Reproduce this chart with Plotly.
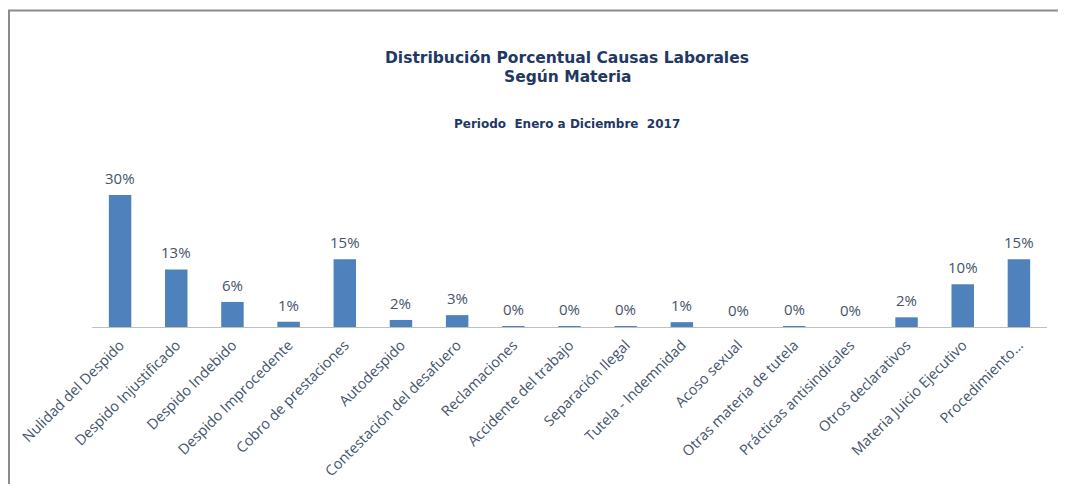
import plotly.graph_objects as go

categories = [
    "Nulidad del Despido", "Despido Injustificado", "Despido Indebido",
    "Despido Improcedente", "Cobro de prestaciones", "Autodespido",
    "Contestación del desafuero", "Reclamaciones", "Accidente del trabajo",
    "Separación Ilegal", "Tutela - Indemnidad", "Acoso sexual",
    "Otras materia de tutela", "Prácticas antisindicales", "Otros declarativos",
    "Materia Juicio Ejecutivo", "Procedimiento...",
]
values = [0.300, 0.131, 0.057, 0.012, 0.154, 0.016, 0.027, 0.002, 0.002,
          0.002, 0.011, 0.0, 0.002, 0.0, 0.022, 0.097, 0.154]
labels = [f"{round(v * 100)}%" for v in values]

# page is offset by the 8px body margin; work in page pixels and convert
OFF = 8
W, H = 1050, 476
L, R, T, B = 92 - OFF, 11, 170 - OFF, 157
pw, ph = W - L - R, H - T - B
ymax = 0.357


def px_x(px):
    return (px - OFF - L) / pw


def px_y(py):
    return (H - B - (py - OFF)) / ph


fig = go.Figure(go.Bar(
    x=categories, y=values,
    marker=dict(color="#4F81BD", line=dict(width=0)),
    width=0.4, hoverinfo="x+y",
))

annotations = [
    dict(x=c, y=v, text=t, xref="x", yref="y", showarrow=False,
         xanchor="center", yanchor="middle", yshift=17,
         font=dict(family="Open Sans", size=15, color="#44546A"))
    for c, v, t in zip(categories, values, labels)
]
annotations += [
    dict(text="<b>Distribución Porcentual Causas Laborales</b>",
         xref="paper", yref="paper", x=px_x(567), y=px_y(57.5),
         xanchor="center", yanchor="middle", showarrow=False,
         font=dict(family="DejaVu Sans", size=15.5, color="#1F3864")),
    dict(text="<b>Según Materia</b>",
         xref="paper", yref="paper", x=px_x(567), y=px_y(76.5),
         xanchor="center", yanchor="middle", showarrow=False,
         font=dict(family="DejaVu Sans", size=15.5, color="#1F3864")),
    dict(text="<b>Periodo  Enero a Diciembre  2017</b>",
         xref="paper", yref="paper", x=px_x(567), y=px_y(123.5),
         xanchor="center", yanchor="middle", showarrow=False,
         font=dict(family="DejaVu Sans", size=12, color="#1F3864")),
]

fig.update_layout(
    width=W, height=H,
    margin=dict(l=L, r=R, t=T, b=B, autoexpand=False),
    paper_bgcolor="white", plot_bgcolor="white",
    showlegend=False,
    font=dict(family="Open Sans", color="#44546A"),
    xaxis=dict(
        tickangle=-45, showline=True, linecolor="#BFBFBF", linewidth=1,
        ticks="", tickfont=dict(family="Open Sans", size=14.5, color="#44546A"),
        ticklabelstandoff=3,
        showgrid=False, automargin=False,
    ),
    yaxis=dict(range=[0, ymax], visible=False, showgrid=False, zeroline=False),
    annotations=annotations,
    shapes=[
        dict(type="line", xref="paper", yref="paper",
             x0=px_x(8), y0=px_y(10.5), x1=px_x(1070), y1=px_y(10.5),
             line=dict(color="#8C8C8C", width=2)),
        dict(type="line", xref="paper", yref="paper",
             x0=px_x(9), y0=px_y(10), x1=px_x(9), y1=px_y(500),
             line=dict(color="#8C8C8C", width=2)),
    ],
)

fig.write_html("out.html")
